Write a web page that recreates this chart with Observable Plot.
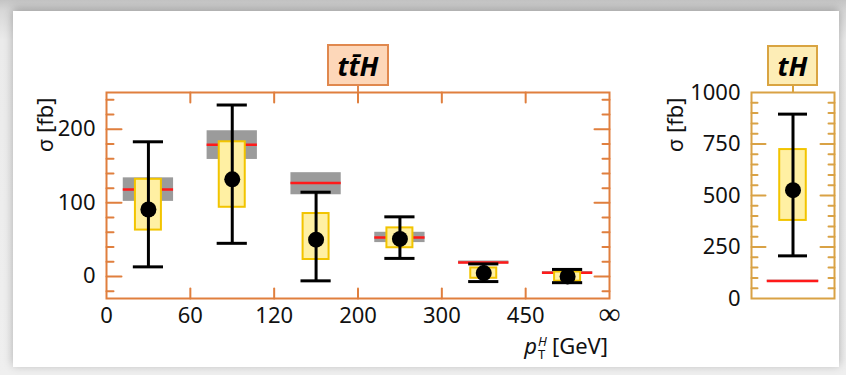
<!DOCTYPE html>
<html>
<head>
<meta charset="utf-8">
<script src="https://cdn.jsdelivr.net/npm/d3@7"></script>
<script src="https://cdn.jsdelivr.net/npm/@observablehq/plot@0.6"></script>
<style>
html,body{margin:0;padding:0;}
body{width:846px;height:375px;position:relative;overflow:hidden;font-family:"Noto Sans",sans-serif;
  background:linear-gradient(to bottom,#c4c4c4 0px,#d8d8d8 11px,#ebebeb 40px,#efefef 100%);}
#card{position:absolute;left:13px;top:11px;width:826px;height:356px;background:#fff;box-shadow:0 -2px 9px rgba(0,0,0,0.28);}
.plot{position:absolute;top:0;}
.title{position:absolute;box-sizing:border-box;display:flex;align-items:center;justify-content:center;
  font-weight:bold;font-style:italic;font-size:27px;color:#000;line-height:1;}
.conn{position:absolute;width:2px;}
#xlabel{position:absolute;right:238px;top:332px;font-size:22px;color:#111;white-space:nowrap;line-height:26px;}
#xlabel .st{display:inline-flex;flex-direction:column;font-size:13px;line-height:13px;vertical-align:8px;margin:0 5px 0 1px;}
#xlabel .st .sup{font-style:italic;}
</style>
</head>
<body>
<div id="card"></div>
<div id="p1" class="plot" style="left:0px"></div>
<div id="p2" class="plot" style="left:640px"></div>
<div class="title" style="left:327px;top:44px;width:62px;height:42px;background:#fdd7b9;border:2px solid #e0884e;">tt&#x0304;H</div>
<div class="conn" style="left:357px;top:86px;height:6px;background:#e0884e;"></div>
<div class="title" style="left:767px;top:45px;width:51px;height:41px;background:#fdedb6;border:2px solid #d9a441;">tH</div>
<div class="conn" style="left:791.5px;top:86px;height:6px;background:#d9a441;"></div>
<div id="xlabel"><i>p</i><span class="st"><span class="sup">H</span><span class="sub">T</span></span>[GeV]</div>
<script>
// ---- ttH differential (pT^H bins) ----
const xEdges     = ["0", "60", "120", "200", "300", "450", "∞"];
const smCentral  = [118, 179, 127, 53, 19, 5];
const smLow      = [102, 159, 111, 46, 17, 3.5];
const smHigh     = [134, 198, 141, 60, 21, 6.5];
const obsCentral = [91, 132, 50, 51, 4.5, 0];
const statLow    = [63, 94, 23, 39, -2.5, -6.5];
const statHigh   = [132, 183, 85.5, 66, 11.5, 6];
const totLow     = [13, 45, -6, 24.5, -7, -8.5];
const totHigh    = [183, 233, 114.5, 81, 17, 9.5];
const yTicks1    = [0, 100, 200];

// ---- tH inclusive ----
const tH = {sm: 85, smLow: 81, smHigh: 89, obs: 526, statLow: 379, statHigh: 723, totLow: 207, totHigh: 895};
const yTicks2 = [0, 250, 500, 750, 1000];

const orange = "#e07f3e";
const gold = "#d9a245";
const grey = "#9b9b9b";
const red = "#ff1a1a";
const yellowFill = "#fff0a3";
const yellowStroke = "#f2c400";
const FS = 22;

const tickShape = {draw(ctx, l) { ctx.moveTo(0, 0); ctx.lineTo(0, -l); }};
function frameTicks(vals, side, len, color) {
  const rot = {left: 90, right: -90, top: 180, bottom: 0}[side];
  const ch = (side === "left" || side === "right") ? {y: d => d} : {x: d => d};
  return Plot.vector(vals, {...ch, frameAnchor: side, rotate: rot, length: len, anchor: "start",
    shape: tickShape, stroke: color, strokeWidth: 2});
}

const idx = d3.range(smCentral.length);
const yMinor1 = d3.range(-20, 250, 20).filter(v => v % 100 !== 0);
const xInner = d3.range(1, 6);
const edgeIdx = d3.range(xEdges.length);

const p1 = Plot.plot({
  width: 640, height: 375,
  marginLeft: 106, marginRight: 31, marginTop: 92, marginBottom: 77,
  x: {domain: [0, 6]},
  y: {domain: [-30, 250]},
  style: {fontFamily: "Noto Sans", fontSize: FS + "px", color: "#111", background: "transparent", overflow: "visible"},
  marks: [
    Plot.rect(idx, {x1: i => i + 0.2, x2: i => i + 0.8, y1: smLow, y2: smHigh, fill: grey}),
    Plot.ruleY(idx, {y: smCentral, x1: i => i + 0.2, x2: i => i + 0.8, stroke: red, strokeWidth: 2.5}),
    Plot.rect(idx, {x1: i => i + 0.345, x2: i => i + 0.655, y1: statLow, y2: statHigh, fill: yellowFill, stroke: yellowStroke, strokeWidth: 2}),
    Plot.ruleX(idx, {x: i => i + 0.5, y1: totLow, y2: totHigh, stroke: "#000", strokeWidth: 3}),
    Plot.ruleY(idx, {y: totLow, x1: i => i + 0.32, x2: i => i + 0.68, stroke: "#000", strokeWidth: 3}),
    Plot.ruleY(idx, {y: totHigh, x1: i => i + 0.32, x2: i => i + 0.68, stroke: "#000", strokeWidth: 3}),
    Plot.dot(idx, {x: i => i + 0.5, y: obsCentral, r: 8, fill: "#000"}),
    Plot.frame({stroke: orange, strokeWidth: 2}),
    frameTicks(yTicks1, "left", 15, orange),
    frameTicks(yTicks1, "right", 15, orange),
    frameTicks(yMinor1, "left", 7, orange),
    frameTicks(yMinor1, "right", 7, orange),
    frameTicks(xInner, "top", 10, orange),
    frameTicks(xInner, "bottom", 10, orange),
    Plot.axisX({ticks: edgeIdx.slice(0, -1), tickFormat: i => xEdges[i], tickSize: 0, tickPadding: 9, label: null, fontSize: FS}),
    Plot.text(edgeIdx.slice(-1), {x: d => d, text: d => xEdges[d], frameAnchor: "bottom", dy: 25, fontSize: 31, fill: "#111"}),
    Plot.axisY({ticks: yTicks1, tickSize: 0, tickPadding: 11, label: null, fontSize: FS}),
    Plot.text(["σ [fb]"], {frameAnchor: "top-left", rotate: -90, textAnchor: "end", dx: -69, dy: 5, fontSize: FS, fill: "#111"})
  ]
});
document.getElementById("p1").append(p1);

const one = [0];
const yMinor2 = d3.range(50, 1000, 50).filter(v => v % 250 !== 0);
const p2 = Plot.plot({
  width: 206, height: 375,
  marginLeft: 111, marginRight: 12, marginTop: 92, marginBottom: 77,
  x: {domain: [0, 1], axis: null},
  y: {domain: [0, 1000]},
  style: {fontFamily: "Noto Sans", fontSize: FS + "px", color: "#111", background: "transparent", overflow: "visible"},
  marks: [
    Plot.rect(one, {x1: 0.19, x2: 0.81, y1: [tH.smLow], y2: [tH.smHigh], fill: grey}),
    Plot.ruleY(one, {y: [tH.sm], x1: 0.19, x2: 0.81, stroke: red, strokeWidth: 2.5}),
    Plot.rect(one, {x1: 0.34, x2: 0.66, y1: [tH.statLow], y2: [tH.statHigh], fill: yellowFill, stroke: yellowStroke, strokeWidth: 2}),
    Plot.ruleX(one, {x: 0.5, y1: [tH.totLow], y2: [tH.totHigh], stroke: "#000", strokeWidth: 3}),
    Plot.ruleY(one, {y: [tH.totLow], x1: 0.325, x2: 0.675, stroke: "#000", strokeWidth: 3}),
    Plot.ruleY(one, {y: [tH.totHigh], x1: 0.325, x2: 0.675, stroke: "#000", strokeWidth: 3}),
    Plot.dot(one, {x: 0.5, y: [tH.obs], r: 8, fill: "#000"}),
    Plot.frame({stroke: gold, strokeWidth: 2}),
    frameTicks([250, 500, 750], "left", 14, gold),
    frameTicks([250, 500, 750], "right", 14, gold),
    frameTicks(yMinor2, "left", 6, gold),
    frameTicks(yMinor2, "right", 6, gold),
    Plot.axisY({ticks: yTicks2, tickFormat: d => String(d), tickSize: 0, tickPadding: 11, label: null, fontSize: FS}),
    Plot.text(["σ [fb]"], {frameAnchor: "top-left", rotate: -90, textAnchor: "end", dx: -84, dy: 5, fontSize: FS, fill: "#111"})
  ]
});
document.getElementById("p2").append(p2);
</script>
</body>
</html>
